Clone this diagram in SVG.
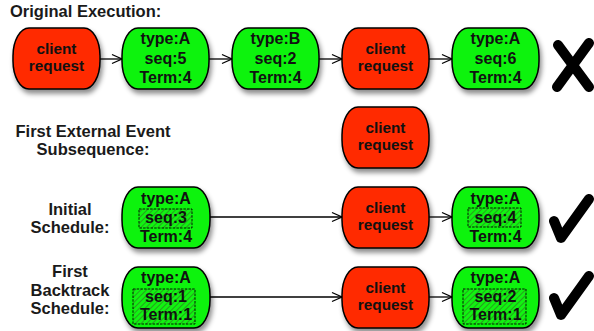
<svg xmlns="http://www.w3.org/2000/svg" width="594" height="331" viewBox="0 0 594 331">
<style>
.lbl{font-family:"Liberation Sans",Arial,sans-serif;font-weight:bold;font-size:16.5px;fill:#1a1a1a;text-anchor:middle}
.nt{font-family:"Liberation Sans",Arial,sans-serif;font-weight:bold;font-size:16px;fill:#111;text-anchor:middle}
.rt{font-family:"Liberation Sans",Arial,sans-serif;font-weight:bold;font-size:15.3px;fill:#111;text-anchor:middle}
.red{fill:#ff2a00;stroke:#000;stroke-width:1.5}
.green{fill:#11f311;stroke:#000;stroke-width:1.5}
.hb{fill:url(#hatch);stroke:#000;stroke-width:0.9;stroke-dasharray:2.5 1.2}
.conn{stroke:#000;stroke-width:1.3;fill:none}
.mark{stroke:#000;fill:none;stroke-linecap:round;stroke-linejoin:round}
</style>
<defs>
<filter id="sh" x="-20%" y="-20%" width="150%" height="150%">
<feDropShadow dx="2" dy="4" stdDeviation="2.5" flood-color="#000" flood-opacity="0.45"/>
</filter>
<pattern id="hatch" patternUnits="userSpaceOnUse" width="4" height="4" patternTransform="rotate(45)">
<rect width="4" height="4" fill="#11f311"/>
<line x1="0" y1="0" x2="0" y2="4" stroke="#2f8a22" stroke-width="1.6"/>
</pattern>
<marker id="ah" viewBox="0 0 12 12" refX="11" refY="6" markerWidth="12" markerHeight="12" markerUnits="userSpaceOnUse" orient="auto">
<path d="M1 1.5 L11 6 L1 10.5" fill="none" stroke="#000" stroke-width="1.3"/>
</marker>
</defs>
<rect width="594" height="331" fill="#fff"/>

<text class="lbl" x="10" y="17" style="text-anchor:start">Original Execution:</text>
<text class="lbl" x="93" y="137">First External Event</text>
<text class="lbl" x="93" y="155">Subsequence:</text>
<text class="lbl" x="70" y="215">Initial</text>
<text class="lbl" x="70" y="233">Schedule:</text>
<text class="lbl" x="70" y="277">First</text>
<text class="lbl" x="70" y="296">Backtrack</text>
<text class="lbl" x="70" y="314">Schedule:</text>

<g id="connectors">
<line class="conn" x1="100" y1="59" x2="122" y2="59" marker-end="url(#ah)"/>
<line class="conn" x1="209" y1="59" x2="232" y2="59" marker-end="url(#ah)"/>
<line class="conn" x1="319" y1="59" x2="342" y2="59" marker-end="url(#ah)"/>
<line class="conn" x1="429" y1="59" x2="452" y2="59" marker-end="url(#ah)"/>
<line class="conn" x1="210" y1="217" x2="342" y2="217" marker-end="url(#ah)"/>
<line class="conn" x1="429" y1="217" x2="452" y2="217" marker-end="url(#ah)"/>
<line class="conn" x1="210" y1="297" x2="342" y2="297" marker-end="url(#ah)"/>
<line class="conn" x1="429" y1="297" x2="452" y2="297" marker-end="url(#ah)"/>
</g>

<g id="n1">
<rect class="red" x="13" y="28" width="87" height="61" rx="16" ry="28" filter="url(#sh)"/>
<text class="rt" x="56.5" y="54">client</text>
<text class="rt" x="56.5" y="71">request</text>
</g>
<g id="n2">
<rect class="green" x="122" y="28" width="87" height="61" rx="16" ry="28" filter="url(#sh)"/>
<text class="nt" x="165.5" y="44">type:A</text>
<text class="nt" x="165.5" y="64">seq:5</text>
<text class="nt" x="165.5" y="83">Term:4</text>
</g>
<g id="n3">
<rect class="green" x="232" y="28" width="87" height="61" rx="16" ry="28" filter="url(#sh)"/>
<text class="nt" x="275.5" y="44">type:B</text>
<text class="nt" x="275.5" y="64">seq:2</text>
<text class="nt" x="275.5" y="83">Term:4</text>
</g>
<g id="n4">
<rect class="red" x="342" y="28" width="87" height="61" rx="16" ry="28" filter="url(#sh)"/>
<text class="rt" x="385.5" y="54">client</text>
<text class="rt" x="385.5" y="71">request</text>
</g>
<g id="n5">
<rect class="green" x="452" y="28" width="87" height="61" rx="16" ry="28" filter="url(#sh)"/>
<text class="nt" x="495.5" y="44">type:A</text>
<text class="nt" x="495.5" y="64">seq:6</text>
<text class="nt" x="495.5" y="83">Term:4</text>
</g>
<g id="xmark">
<path class="mark" d="M558 45 L589 87 M589 43 L557 87" stroke-width="10"/>
</g>

<g id="n6">
<rect class="red" x="342" y="107" width="87" height="61" rx="16" ry="28" filter="url(#sh)"/>
<text class="rt" x="385.5" y="133">client</text>
<text class="rt" x="385.5" y="150">request</text>
</g>

<g id="n7">
<rect class="green" x="122" y="187" width="88" height="61" rx="16" ry="28" filter="url(#sh)"/>
<rect class="hb" x="139" y="209" width="53" height="19"/>
<text class="nt" x="166" y="204">type:A</text>
<text class="nt" x="166" y="223">seq:3</text>
<text class="nt" x="166" y="242">Term:4</text>
</g>
<g id="n8">
<rect class="red" x="342" y="187" width="87" height="61" rx="16" ry="28" filter="url(#sh)"/>
<text class="rt" x="385.5" y="213">client</text>
<text class="rt" x="385.5" y="230">request</text>
</g>
<g id="n9">
<rect class="green" x="452" y="187" width="87" height="61" rx="16" ry="28" filter="url(#sh)"/>
<rect class="hb" x="468" y="208" width="53" height="19"/>
<text class="nt" x="495.5" y="204">type:A</text>
<text class="nt" x="495.5" y="223">seq:4</text>
<text class="nt" x="495.5" y="242">Term:4</text>
</g>
<g id="check1">
<path class="mark" d="M554 221 L561 238 L589 199" stroke-width="10"/>
</g>

<g id="n10">
<rect class="green" x="122" y="267" width="88" height="61" rx="16" ry="28" filter="url(#sh)"/>
<rect class="hb" x="133" y="289" width="62" height="35"/>
<text class="nt" x="166" y="283">type:A</text>
<text class="nt" x="166" y="302">seq:1</text>
<text class="nt" x="166" y="320">Term:1</text>
</g>
<g id="n11">
<rect class="red" x="342" y="267" width="87" height="61" rx="16" ry="28" filter="url(#sh)"/>
<text class="rt" x="385.5" y="293">client</text>
<text class="rt" x="385.5" y="310">request</text>
</g>
<g id="n12">
<rect class="green" x="452" y="267" width="87" height="61" rx="16" ry="28" filter="url(#sh)"/>
<rect class="hb" x="463" y="289" width="63" height="35"/>
<text class="nt" x="495.5" y="283">type:A</text>
<text class="nt" x="495.5" y="302">seq:2</text>
<text class="nt" x="495.5" y="320">Term:1</text>
</g>
<g id="check2">
<path class="mark" d="M554 298 L561 315 L589 276" stroke-width="10"/>
</g>
</svg>
